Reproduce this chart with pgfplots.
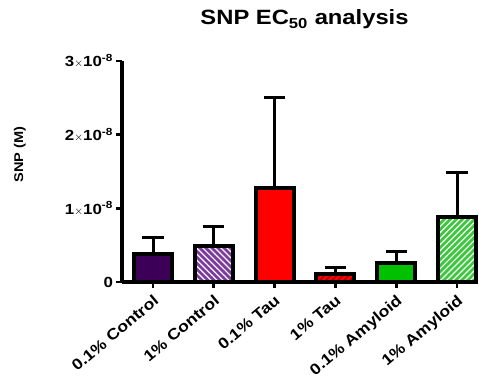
\documentclass[border=0pt]{standalone}
\usepackage{pgfplots}
\pgfplotsset{compat=1.18}
\usetikzlibrary{patterns.meta}
\usepackage{fontspec}
\setmainfont{Liberation Sans}[FakeStretch=1.15]
\definecolor{cPurpleD}{HTML}{3C0058}
\definecolor{cPurple}{HTML}{7E3A9E}
\definecolor{cRed}{HTML}{FF0000}
\definecolor{cRedD}{HTML}{A00000}
\definecolor{cGreen}{HTML}{00C000}
\definecolor{cGreenL}{HTML}{3CC83C}
\pgfplotsset{
  snpbar/.style={ybar, bar width=0.625, bar shift=0pt, draw=black, line width=3pt,
    error bars/y dir=plus, error bars/y explicit,
    error bars/error mark=|,
    error bars/error bar style={line width=2.25pt, black},
    error bars/error mark options={line width=2.25pt, mark size=7.9pt, black}},
}
\begin{document}
\begin{tikzpicture}
\useasboundingbox (0,0) rectangle (359.25pt,282.75pt);
\begin{axis}[
  at={(91.5pt,71.25pt)}, anchor=south west,
  scale only axis, width=267pt, height=165.75pt,
  xmin=-0.51, xmax=5.345, ymin=0, ymax=3e-8,
  axis x line*=bottom, axis y line*=left,
  axis line style={-, line width=3pt, black},
  tick align=outside, major tick length=4.5pt,
  tick style={line width=2pt, black},
  xtick={0,1,2,3,4,5},
  xticklabels={0.1\% Control,1\% Control,0.1\% Tau,1\% Tau,0.1\% Amyloid,1\% Amyloid},
  xticklabel style={rotate=40, anchor=north east, font=\bfseries\fontsize{11.5}{13}\selectfont, inner sep=1pt, yshift=-2pt, xshift=-2pt},
  ytick={0,1e-8,2e-8,3e-8},
  yticklabels={0,{1{\fontsize{8.5}{8}\selectfont$\times$}10\textsuperscript{-8}},{2{\fontsize{8.5}{8}\selectfont$\times$}10\textsuperscript{-8}},{3{\fontsize{8.5}{8}\selectfont$\times$}10\textsuperscript{-8}}},
  scaled y ticks=false,
  yticklabel style={font=\bfseries\fontsize{11}{12}\selectfont, inner sep=2pt},
  title={SNP EC\textsubscript{50} analysis},
  title style={at={(axis description cs:0.5,1)}, anchor=base, yshift=21pt, xshift=3.4pt, font=\bfseries\fontsize{15.5}{18}\selectfont},
  ylabel={SNP (M)},
  ylabel style={at={(axis description cs:-0.287,0.577)}, anchor=center, font=\bfseries\fontsize{9.5}{11}\selectfont},
  clip=false,
]
\addplot[snpbar, fill=cPurpleD]
  coordinates {(0,0.38e-8) +- (0,0.23e-8)};
\addplot[snpbar, fill=cPurple,
  postaction={pattern={Lines[angle=-45,distance=3.2pt,line width=0.9pt]}, pattern color=white}]
  coordinates {(1,0.49e-8) +- (0,0.27e-8)};
\addplot[snpbar, fill=cRed]
  coordinates {(2,1.28e-8) +- (0,1.22e-8)};
\addplot[snpbar, fill=cRed,
  postaction={pattern={Lines[angle=45,distance=3.2pt,line width=1.1pt]}, pattern color=cRedD}]
  coordinates {(3,0.11e-8) +- (0,0.08e-8)};
\addplot[snpbar, fill=cGreen]
  coordinates {(4,0.26e-8) +- (0,0.16e-8)};
\addplot[snpbar, fill=cGreenL,
  postaction={pattern={Lines[angle=45,distance=3.2pt,line width=0.9pt]}, pattern color=white}]
  coordinates {(5,0.88e-8) +- (0,0.60e-8)};
\end{axis}
\end{tikzpicture}
\end{document}
